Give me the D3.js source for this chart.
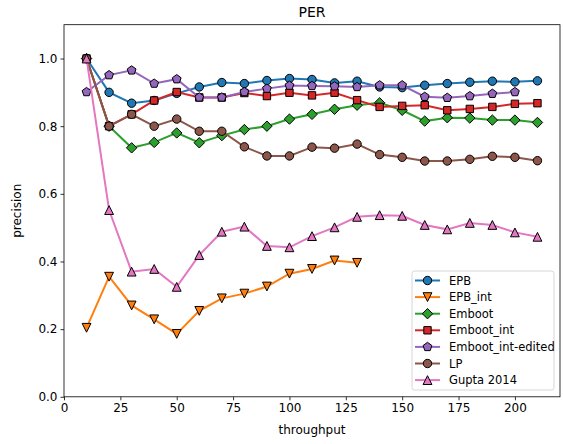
<!DOCTYPE html>
<html>
<head>
<meta charset="utf-8">
<script src="https://cdn.jsdelivr.net/npm/d3@7"></script>
<style>
  body { margin: 0; background: #fff; }
  text { font-family: "DejaVu Sans", sans-serif; }
</style>
</head>
<body>
<div id="chart"></div>
<script>
// throughput values (x)
const throughput = [10, 20, 30, 40, 50, 60, 70, 80, 90, 100, 110, 120, 130, 140, 150, 160, 170, 180, 190, 200, 210];

// precision per method
const epb = [1.0, 0.90, 0.868, 0.876, 0.897, 0.916, 0.929, 0.926, 0.935, 0.941, 0.938, 0.928, 0.933, 0.916, 0.914, 0.921, 0.926, 0.930, 0.933, 0.931, 0.934];
const epbInt = [0.204, 0.355, 0.270, 0.229, 0.186, 0.254, 0.291, 0.305, 0.326, 0.364, 0.378, 0.403, 0.396];
const emboot = [1.0, 0.80, 0.736, 0.752, 0.780, 0.751, 0.772, 0.790, 0.800, 0.821, 0.835, 0.850, 0.862, 0.869, 0.847, 0.815, 0.825, 0.824, 0.818, 0.818, 0.811];
const embootInt = [1.0, 0.80, 0.835, 0.876, 0.901, 0.885, 0.885, 0.898, 0.889, 0.899, 0.891, 0.899, 0.877, 0.857, 0.860, 0.862, 0.847, 0.851, 0.857, 0.866, 0.868];
const embootIntEdited = [0.901, 0.951, 0.965, 0.926, 0.939, 0.885, 0.885, 0.901, 0.911, 0.920, 0.919, 0.918, 0.916, 0.921, 0.921, 0.887, 0.884, 0.889, 0.896, 0.901];
const lp = [1.0, 0.800, 0.835, 0.800, 0.821, 0.785, 0.785, 0.739, 0.712, 0.712, 0.738, 0.735, 0.747, 0.716, 0.708, 0.697, 0.697, 0.702, 0.711, 0.708, 0.698];
const gupta = [1.0, 0.552, 0.370, 0.378, 0.325, 0.419, 0.488, 0.503, 0.446, 0.442, 0.475, 0.501, 0.532, 0.537, 0.535, 0.508, 0.495, 0.514, 0.508, 0.486, 0.473];

const seriesNames = ["EPB", "EPB_int", "Emboot", "Emboot_int", "Emboot_int-edited", "LP", "Gupta 2014"];
const seriesValues = [epb, epbInt, emboot, embootInt, embootIntEdited, lp, gupta];
const seriesColors = ["#1f77b4", "#ff7f0e", "#2ca02c", "#d62728", "#9467bd", "#8c564b", "#e377c2"];
const seriesMarkers = ["circle", "triangleDown", "diamond", "square", "pentagon", "circle", "triangleUp"];

const xTicks = [0, 25, 50, 75, 100, 125, 150, 175, 200];
const yTicks = [0, 0.2, 0.4, 0.6, 0.8, 1.0];

const series = seriesNames.map((name, i) => ({
    name: name,
    color: seriesColors[i],
    marker: seriesMarkers[i],
    points: seriesValues[i].map((v, j) => ({x: throughput[j], y: v}))
}));

const W = 563, H = 444;
const margins = {top: 24.7, right: 3, bottom: 47.2, left: 64};
const width = W - margins.left - margins.right;
const height = H - margins.top - margins.bottom;

const svg = d3.select("#chart").append("svg")
    .attr("width", W)
    .attr("height", H);

const g = svg.append("g")
    .attr("transform", `translate(${margins.left}, ${margins.top})`);

const xScale = d3.scaleLinear().domain([0, 220]).range([0, width]);
const yScale = d3.scaleLinear().domain([0, 1.1]).range([height, 0]);

// marker paths, centred at 0,0
function markerPath(type) {
    if (type === "circle") {
        const r = 4.2;
        return `M${r},0A${r},${r},0,1,1,${-r},0A${r},${r},0,1,1,${r},0Z`;
    }
    if (type === "square") {
        const s = 3.7;
        return `M${-s},${-s}L${s},${-s}L${s},${s}L${-s},${s}Z`;
    }
    if (type === "diamond") {
        const s = 5.2;
        return `M0,${-s}L${s},0L0,${s}L${-s},0Z`;
    }
    if (type === "triangleUp") {
        const s = 4.4;
        return `M0,${-s}L${s},${s}L${-s},${s}Z`;
    }
    if (type === "triangleDown") {
        const s = 4.4;
        return `M0,${s}L${s},${-s}L${-s},${-s}Z`;
    }
    if (type === "pentagon") {
        const r = 4.6;
        const pts = d3.range(5).map(k => {
            const a = -Math.PI / 2 + k * 2 * Math.PI / 5;
            return [r * Math.cos(a), r * Math.sin(a)];
        });
        return "M" + pts.map(p => p.join(",")).join("L") + "Z";
    }
}

// ticks (outward) and labels
const xAxis = g.append("g")
    .attr("transform", `translate(0, ${height})`)
    .call(d3.axisBottom(xScale).tickValues(xTicks).tickSizeOuter(0).tickSize(3.5).tickPadding(3));
const yAxis = g.append("g")
    .call(d3.axisLeft(yScale).tickValues(yTicks).tickFormat(d3.format(".1f")).tickSizeOuter(0).tickSize(3.5).tickPadding(3));

[xAxis, yAxis].forEach(ax => {
    ax.select(".domain").remove();
    ax.selectAll("line").attr("stroke", "#000").attr("stroke-width", 0.8);
    ax.selectAll("text")
        .attr("fill", "#000")
        .style("font-family", "DejaVu Sans, sans-serif")
        .style("font-size", "12px");
});

// lines + markers, series by series
const line = d3.line().x(d => xScale(d.x)).y(d => yScale(d.y));

const clip = svg.append("defs").append("clipPath").attr("id", "plotclip")
    .append("rect").attr("width", width).attr("height", height);

const plot = g.append("g").attr("clip-path", "url(#plotclip)");

series.forEach(s => {
    const sg = plot.append("g");
    sg.append("path")
        .datum(s.points)
        .attr("d", line)
        .attr("fill", "none")
        .attr("stroke", s.color)
        .attr("stroke-width", 2);
    sg.selectAll("path.mk")
        .data(s.points)
        .join("path")
            .attr("class", "mk")
            .attr("transform", d => `translate(${xScale(d.x)}, ${yScale(d.y)})`)
            .attr("d", markerPath(s.marker))
            .attr("fill", s.color)
            .attr("stroke", "#000")
            .attr("stroke-width", 1);
});

// frame
g.append("rect")
    .attr("width", width)
    .attr("height", height)
    .attr("fill", "none")
    .attr("stroke", "#000")
    .attr("stroke-width", 0.8);

// title and axis labels
svg.append("text")
    .attr("x", margins.left + width / 2)
    .attr("y", 17)
    .attr("text-anchor", "middle")
    .style("font-size", "14px")
    .text("PER");

svg.append("text")
    .attr("x", margins.left + width / 2)
    .attr("y", 434)
    .attr("text-anchor", "middle")
    .style("font-size", "12px")
    .text("throughput");

svg.append("text")
    .attr("transform", `translate(21, ${margins.top + height / 2}) rotate(-90)`)
    .attr("text-anchor", "middle")
    .style("font-size", "12px")
    .text("precision");

// legend
const legend = svg.append("g").attr("transform", "translate(412, 271)");
legend.append("rect")
    .attr("width", 142)
    .attr("height", 119)
    .attr("rx", 2.5)
    .attr("fill", "#fff")
    .attr("fill-opacity", 0.8)
    .attr("stroke", "#ccc")
    .attr("stroke-width", 0.8);

series.forEach((s, i) => {
    const row = legend.append("g").attr("transform", `translate(0, ${9.5 + i * 16.6})`);
    row.append("line")
        .attr("x1", 3).attr("x2", 28)
        .attr("stroke", s.color)
        .attr("stroke-width", 2);
    row.append("path")
        .attr("transform", "translate(15.5, 0)")
        .attr("d", markerPath(s.marker))
        .attr("fill", s.color)
        .attr("stroke", "#000")
        .attr("stroke-width", 1);
    row.append("text")
        .attr("x", 37)
        .attr("y", 4)
        .style("font-size", "11.5px")
        .text(s.name);
});
</script>
</body>
</html>
